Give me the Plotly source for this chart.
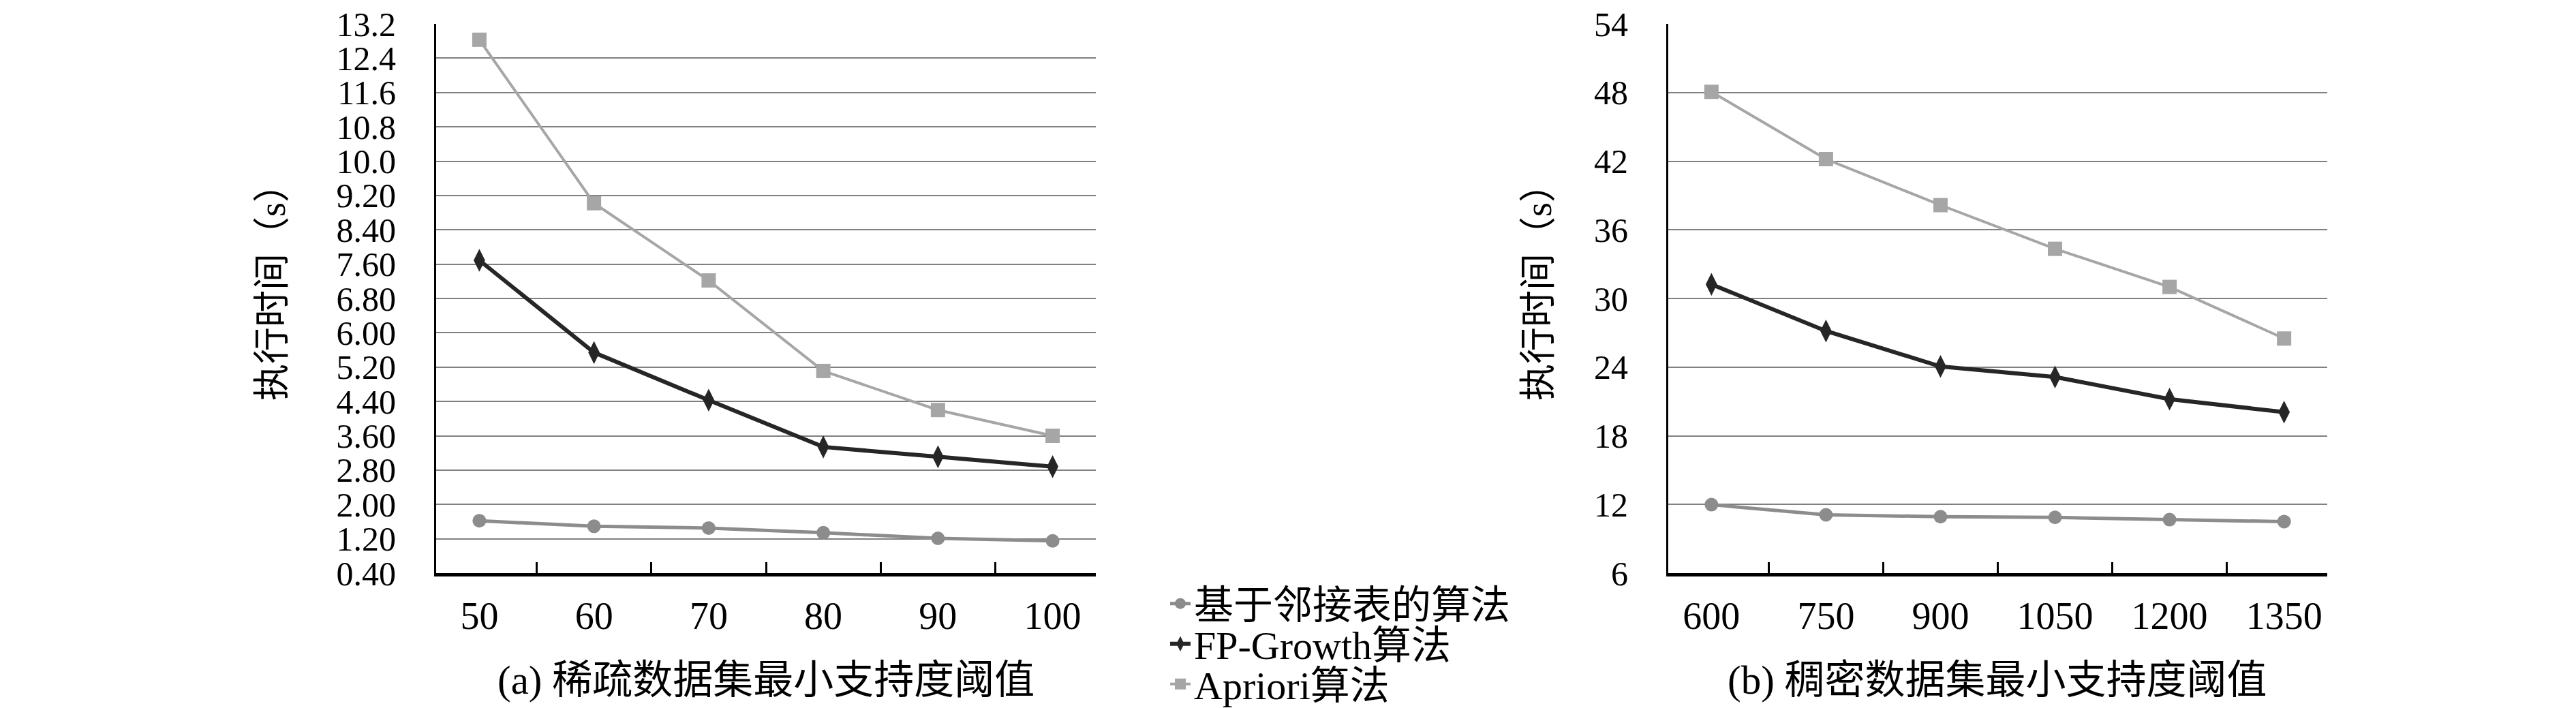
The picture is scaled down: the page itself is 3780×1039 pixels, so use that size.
import plotly.graph_objects as go

# ---------------- data ----------------
sparse_support = ["50", "60", "70", "80", "90", "100"]
dense_support = ["600", "750", "900", "1050", "1200", "1350"]

series_names = ["基于邻接表的算法", "FP-Growth算法", "Apriori算法"]

sparse_adj = [1.62, 1.49, 1.45, 1.34, 1.21, 1.15]
sparse_fp = [7.69, 5.54, 4.43, 3.34, 3.11, 2.88]
sparse_apriori = [12.83, 9.02, 7.22, 5.11, 4.20, 3.60]

dense_adj = [11.98, 11.09, 10.93, 10.87, 10.67, 10.50]
dense_fp = [31.24, 27.16, 24.06, 23.14, 21.20, 20.07]
dense_apriori = [48.06, 42.18, 38.16, 34.34, 31.01, 26.50]

sparse_tickvals = [0.4, 1.2, 2.0, 2.8, 3.6, 4.4, 5.2, 6.0, 6.8, 7.6, 8.4, 9.2,
                   10.0, 10.8, 11.6, 12.4, 13.2]
sparse_ticktext = ["0.40", "1.20", "2.00", "2.80", "3.60", "4.40", "5.20", "6.00",
                   "6.80", "7.60", "8.40", "9.20", "10.0", "10.8", "11.6", "12.4", "13.2"]
dense_tickvals = [6, 12, 18, 24, 30, 36, 42, 48, 54]
dense_ticktext = ["6", "12", "18", "24", "30", "36", "42", "48", "54"]

y_title = "执行时间（s）"
x_title_a = "(a) 稀疏数据集最小支持度阈值"
x_title_b = "(b) 稠密数据集最小支持度阈值"

# ---------------- styles ----------------
W, H = 3780, 1039
FONT = "Liberation Serif, Times New Roman, Times, DejaVu Serif, Noto Sans CJK SC, serif"
styles = [
    dict(color="#8c8c8c", width=5, symbol="circle", size=20),
    dict(color="#262626", width=6, symbol="diamond-tall", size=24),
    dict(color="#a6a6a6", width=4, symbol="square", size=21),
]
legend_ids = ["legend", "legend2", "legend3"]

fig = go.Figure()
sparse_series = [sparse_adj, sparse_fp, sparse_apriori]
dense_series = [dense_adj, dense_fp, dense_apriori]

for i, (name, ys) in enumerate(zip(series_names, sparse_series)):
    st = styles[i]
    fig.add_trace(go.Scatter(
        x=sparse_support, y=ys, name=name, mode="lines+markers",
        line=dict(color=st["color"], width=st["width"]),
        marker=dict(color=st["color"], symbol=st["symbol"], size=st["size"]),
        xaxis="x", yaxis="y", legend=legend_ids[i], showlegend=True,
    ))
for i, (name, ys) in enumerate(zip(series_names, dense_series)):
    st = styles[i]
    fig.add_trace(go.Scatter(
        x=dense_support, y=ys, name=name, mode="lines+markers",
        line=dict(color=st["color"], width=st["width"]),
        marker=dict(color=st["color"], symbol=st["symbol"], size=st["size"]),
        xaxis="x2", yaxis="y2", showlegend=False,
    ))

ydom = [1 - 833 / H, 1 - 27 / H]

def xaxis_cfg(dom, anchor):
    return dict(
        domain=dom, anchor=anchor, type="category",
        showline=True, linecolor="black", linewidth=5,
        ticks="inside", tickson="boundaries", ticklen=16, tickwidth=3, tickcolor="black",
        showgrid=False, zeroline=False,
        tickfont=dict(family=FONT, size=56, color="black"),
        ticklabelstandoff=10,
    )

def yaxis_cfg(anchor, rng, tv, tt):
    return dict(
        domain=ydom, anchor=anchor, range=rng,
        tickmode="array", tickvals=tv, ticktext=tt,
        showgrid=True, gridcolor="#808080", gridwidth=2,
        showline=True, linecolor="black", linewidth=3,
        ticks="", zeroline=False,
        tickfont=dict(family=FONT, size=50, color="black"),
        ticklabelstandoff=46, ticklabeloverflow="allow",
    )

legend_y = [1 - 878 / H, 1 - 937 / H, 1 - 996 / H]
legend_common = dict(
    x=1704 / W, xanchor="left", yanchor="middle",
    bgcolor="rgba(0,0,0,0)", borderwidth=0,
    font=dict(family=FONT, size=58, color="black"),
)

fig.update_layout(
    width=W, height=H,
    margin=dict(l=0, r=0, t=0, b=0, autoexpand=False),
    paper_bgcolor="white", plot_bgcolor="white",
    font=dict(family=FONT, color="black"),
    xaxis=xaxis_cfg([632 / W, 1600 / W], "y"),
    yaxis=yaxis_cfg("x", [0.4, 13.2005], sparse_tickvals, sparse_ticktext),
    xaxis2=xaxis_cfg([2440 / W, 3407 / W], "y2"),
    yaxis2=yaxis_cfg("x2", [6, 54.002], dense_tickvals, dense_ticktext),
    legend=dict(y=legend_y[0], **legend_common),
    legend2=dict(y=legend_y[1], **legend_common),
    legend3=dict(y=legend_y[2], **legend_common),
    annotations=[
        dict(text=y_title, textangle=-90, x=392 / W, y=1 - 408 / H,
             xref="paper", yref="paper", xanchor="center", yanchor="middle",
             showarrow=False, font=dict(family=FONT, size=54, color="black")),
        dict(text=y_title, textangle=-90, x=2250 / W, y=1 - 408 / H,
             xref="paper", yref="paper", xanchor="center", yanchor="middle",
             showarrow=False, font=dict(family=FONT, size=54, color="black")),
        dict(text=x_title_a, x=1116 / W, y=1 - 990 / H,
             xref="paper", yref="paper", xanchor="center", yanchor="middle",
             showarrow=False, font=dict(family=FONT, size=59, color="black")),
        dict(text=x_title_b, x=2923 / W, y=1 - 990 / H,
             xref="paper", yref="paper", xanchor="center", yanchor="middle",
             showarrow=False, font=dict(family=FONT, size=59, color="black")),
    ],
)

fig.write_html("out.html")
